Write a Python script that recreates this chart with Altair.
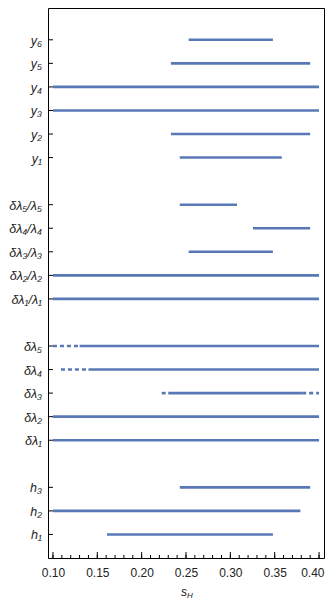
import altair as alt
import pandas as pd

# Row labels, bottom to top ("" = gap row)
rows = ["h₁", "h₂", "h₃", "",
        "δλ₁", "δλ₂", "δλ₃", "δλ₄", "δλ₅", "",
        "δλ₁/λ₁", "δλ₂/λ₂", "δλ₃/λ₃", "δλ₄/λ₄", "δλ₅/λ₅", "",
        "y₁", "y₂", "y₃", "y₄", "y₅", "y₆"]

# Solid segments
seg_label = ["y₆", "y₅", "y₄", "y₃", "y₂", "y₁",
             "δλ₅/λ₅", "δλ₄/λ₄", "δλ₃/λ₃", "δλ₂/λ₂", "δλ₁/λ₁",
             "δλ₅", "δλ₄", "δλ₃", "δλ₂", "δλ₁",
             "h₃", "h₂", "h₁"]
seg_lo = [0.253, 0.233, 0.100, 0.100, 0.233, 0.243,
          0.243, 0.3255, 0.253, 0.100, 0.100,
          0.130, 0.140, 0.230, 0.100, 0.100,
          0.243, 0.100, 0.161]
seg_hi = [0.348, 0.390, 0.400, 0.400, 0.390, 0.358,
          0.3075, 0.390, 0.348, 0.400, 0.400,
          0.400, 0.400, 0.381, 0.400, 0.400,
          0.390, 0.379, 0.348]

# Dotted segments
dot_label = ["δλ₅", "δλ₄", "δλ₃", "δλ₃"]
dot_lo = [0.100, 0.109, 0.2226, 0.381]
dot_hi = [0.130, 0.140, 0.230, 0.400]

# X ticks
major_ticks = [0.10, 0.15, 0.20, 0.25, 0.30, 0.35, 0.40]
minor_ticks = [round(0.10 + 0.01 * i, 2) for i in range(31)]

W, H = 276, 550
COLOR = "#5878b6"
XDOM = [0.0944, 0.4056]
YDOM = [-1, 22.35]

pos = {lab: i for i, lab in enumerate(rows) if lab}

seg = pd.DataFrame({"label": seg_label, "lo": seg_lo, "hi": seg_hi})
seg["pos"] = seg["label"].map(pos)
dot = pd.DataFrame({"label": dot_label, "lo": dot_lo, "hi": dot_hi})
dot["pos"] = dot["label"].map(pos)
ylab = pd.DataFrame({"label": [r for r in rows if r],
                     "pos": [i for i, r in enumerate(rows) if r]})
majt = pd.DataFrame({"v": major_ticks})
mint = pd.DataFrame({"v": minor_ticks})

xscale = alt.Scale(domain=XDOM, nice=False, zero=False)
yscale = alt.Scale(domain=YDOM, nice=False, zero=False)

last_test = "datum.value >= 0.399"
xaxis = alt.Axis(values=major_ticks, format=".2f", ticks=False, domain=False,
                 grid=False, labelFont="Liberation Sans", labelFontSize=12,
                 labelColor="#222", labelPadding=9, labelOverlap=False,
                 labelFlush=False, title=None,
                 labelAlign={"condition": {"test": last_test, "value": "right"},
                             "value": "center"},
                 labelOffset={"condition": {"test": last_test, "value": 5},
                              "value": 0})

base_solid = alt.Chart(seg).mark_rule(color=COLOR, strokeWidth=2.6, strokeCap="butt").encode(
    x=alt.X("lo:Q", scale=xscale, axis=xaxis),
    x2="hi:Q",
    y=alt.Y("pos:Q", scale=yscale, axis=None),
)

dotted = alt.Chart(dot).mark_rule(color=COLOR, strokeWidth=2.6, strokeDash=[4, 3],
                                  strokeCap="butt").encode(
    x=alt.X("lo:Q", scale=xscale), x2="hi:Q", y=alt.Y("pos:Q", scale=yscale))

ytick_marks = alt.Chart(ylab).mark_rule(color="#000", strokeWidth=1).encode(
    y=alt.Y("pos:Q", scale=yscale), x=alt.value(0), x2=alt.value(5))

ylabels = alt.Chart(ylab).mark_text(
    font="Liberation Sans", fontSize=12.5, fontStyle="italic", color="#222",
    align="right", baseline="middle", dx=-6, dy=1).encode(
    y=alt.Y("pos:Q", scale=yscale), x=alt.value(0), text="label:N")

major_marks = alt.Chart(majt).mark_rule(color="#000", strokeWidth=1).encode(
    x=alt.X("v:Q", scale=xscale), y=alt.value(H), y2=alt.value(H - 6))

minor_marks = alt.Chart(mint).mark_rule(color="#000", strokeWidth=1).encode(
    x=alt.X("v:Q", scale=xscale), y=alt.value(H), y2=alt.value(H - 3))

title_s = alt.Chart(pd.DataFrame({"t": ["s"]})).mark_text(
    font="Liberation Sans", fontSize=12, fontStyle="italic", color="#222",
    align="right", baseline="alphabetic").encode(
    text="t:N", x=alt.value(W / 2 + 1), y=alt.value(H + 38))
title_h = alt.Chart(pd.DataFrame({"t": ["H"]})).mark_text(
    font="Liberation Sans", fontSize=8, fontStyle="italic", color="#222",
    align="left", baseline="alphabetic").encode(
    text="t:N", x=alt.value(W / 2 + 1), y=alt.value(H + 40))

chart = alt.layer(base_solid, dotted, ytick_marks, ylabels, minor_marks, major_marks,
                  title_s, title_h).properties(
    width=W, height=H,
    autosize=alt.AutoSizeParams(type="none"),
    padding={"left": 40, "top": 0, "right": 1, "bottom": 41},
).configure_view(stroke="#000", strokeWidth=1)

chart.save("out.html", embed_options={"renderer": "svg", "actions": False})
